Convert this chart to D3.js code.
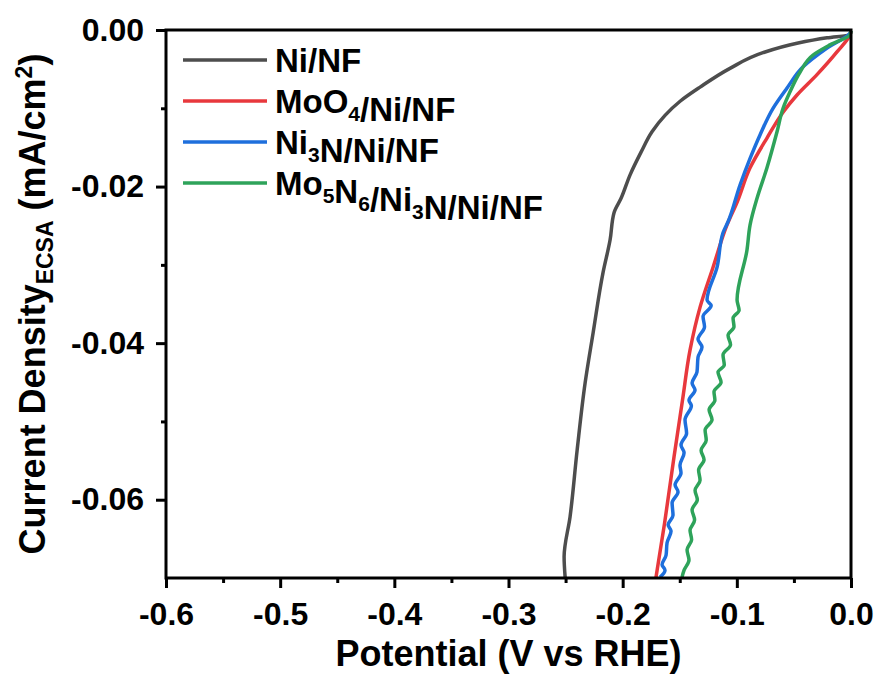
<!DOCTYPE html>
<html>
<head>
<meta charset="utf-8">
<script src="https://cdn.jsdelivr.net/npm/d3@7"></script>
<style>
  body { margin: 0; background: #fff; }
  text { font-family: Arial, "Liberation Sans", sans-serif; font-weight: bold; }
</style>
</head>
<body>
<div id="chart"></div>
<script>
// data (potential V vs RHE, current density mA/cm2)
var niNF = [
  [0, -0.0001], [-0.0009, -0.0006], [-0.0210, -0.0010], [-0.0473, -0.0017], [-0.0771, -0.0029],
  [-0.1060, -0.0049], [-0.1322, -0.0073], [-0.1497, -0.0091], [-0.1629, -0.0109], [-0.1743, -0.0130],
  [-0.1839, -0.0156], [-0.1935, -0.0185], [-0.2014, -0.0215], [-0.2075, -0.0233], [-0.2110, -0.0268],
  [-0.2172, -0.0310], [-0.2259, -0.0387], [-0.2329, -0.0451], [-0.2399, -0.0537], [-0.2461, -0.0622],
  [-0.2513, -0.0673], [-0.2504, -0.0699]
];
var moO4 = [
  [0, -0.0001], [-0.0009, -0.0006], [-0.0123, -0.0028], [-0.0298, -0.0057], [-0.0473, -0.0083],
  [-0.0595, -0.0105], [-0.0736, -0.0138], [-0.0884, -0.0176], [-0.0998, -0.0220], [-0.1086, -0.0249],
  [-0.1208, -0.0303], [-0.1322, -0.0354], [-0.1410, -0.0409], [-0.1476, -0.0473], [-0.1550, -0.0545],
  [-0.1633, -0.0630], [-0.1708, -0.0699]
];
var ni3N = [
  [0, -0.0001], [-0.0009, -0.0004], [-0.0210, -0.0023], [-0.0420, -0.0047], [-0.0560, -0.0074],
  [-0.0683, -0.0100], [-0.0797, -0.0134], [-0.0884, -0.0164], [-0.0972, -0.0198], [-0.1077, -0.0245],
  [-0.1121, -0.0259], [-0.1173, -0.0303], [-0.1261, -0.0345], [-0.1225, -0.0352], [-0.1296, -0.0366],
  [-0.1283, -0.0379], [-0.1340, -0.0395], [-0.1305, -0.0405], [-0.1340, -0.0418], [-0.1349, -0.0437],
  [-0.1392, -0.0451], [-0.1366, -0.0460], [-0.1419, -0.0473], [-0.1398, -0.0480], [-0.1454, -0.0498],
  [-0.1440, -0.0515], [-0.1489, -0.0530], [-0.1462, -0.0540], [-0.1498, -0.0556], [-0.1489, -0.0566],
  [-0.1541, -0.0581], [-0.1515, -0.0590], [-0.1567, -0.0604], [-0.1559, -0.0620], [-0.1602, -0.0632],
  [-0.1576, -0.0640], [-0.1611, -0.0655], [-0.1620, -0.0671], [-0.1655, -0.0683], [-0.1629, -0.0690],
  [-0.1673, -0.0699]
];
var mo5N6 = [
  [0, -0.0001], [-0.0009, -0.0006], [-0.0184, -0.0019], [-0.0333, -0.0032], [-0.0447, -0.0054],
  [-0.0534, -0.0079], [-0.0595, -0.0100], [-0.0648, -0.0130], [-0.0736, -0.0176], [-0.0823, -0.0215],
  [-0.0884, -0.0249], [-0.0911, -0.0281], [-0.0998, -0.0345], [-0.0980, -0.0358], [-0.1033, -0.0368],
  [-0.1025, -0.0379], [-0.1077, -0.0390], [-0.1055, -0.0402], [-0.1121, -0.0415], [-0.1110, -0.0428],
  [-0.1165, -0.0437], [-0.1138, -0.0450], [-0.1200, -0.0462], [-0.1192, -0.0473], [-0.1243, -0.0485],
  [-0.1217, -0.0498], [-0.1278, -0.0511], [-0.1268, -0.0524], [-0.1313, -0.0537], [-0.1287, -0.0549],
  [-0.1335, -0.0562], [-0.1322, -0.0575], [-0.1366, -0.0588], [-0.1346, -0.0600], [-0.1392, -0.0613],
  [-0.1370, -0.0626], [-0.1410, -0.0639], [-0.1396, -0.0651], [-0.1436, -0.0664], [-0.1419, -0.0677],
  [-0.1462, -0.0690], [-0.1480, -0.0699]
];

var seriesNames = [
  [{t: "Ni/NF"}],
  [{t: "MoO"}, {t: "4", sub: true}, {t: "/Ni/NF"}],
  [{t: "Ni"}, {t: "3", sub: true}, {t: "N/Ni/NF"}],
  [{t: "Mo"}, {t: "5", sub: true}, {t: "N"}, {t: "6", sub: true}, {t: "/Ni"}, {t: "3", sub: true}, {t: "N/Ni/NF"}]
];
var seriesData = [niNF, moO4, ni3N, mo5N6];
var colors = ["#4d4d4d", "#e8383d", "#1e6fdc", "#2ea35a"];

var xTicks = [-0.6, -0.5, -0.4, -0.3, -0.2, -0.1, 0.0];
var xMinor = [-0.55, -0.45, -0.35, -0.25, -0.15, -0.05];
var yTicks = [0.00, -0.02, -0.04, -0.06];
var yMinor = [-0.01, -0.03, -0.05];

var width = 880, height = 677;
var margin = {left: 166, right: 29, top: 30, bottom: 99};

var svg = d3.select("#chart").append("svg")
  .attr("width", width).attr("height", height);

var x = d3.scaleLinear().domain([-0.6, 0]).range([margin.left, width - margin.right]);
var y = d3.scaleLinear().domain([-0.07, 0]).range([height - margin.bottom, margin.top]);

// axes
svg.append("g")
  .attr("transform", "translate(0," + (height - margin.bottom) + ")")
  .call(d3.axisBottom(x).tickValues(xTicks).tickSize(10).tickPadding(14)
    .tickFormat(function(d) { return d === 0 ? "0.0" : d.toFixed(1); }));
svg.append("g")
  .attr("transform", "translate(0," + (height - margin.bottom) + ")")
  .call(d3.axisBottom(x).tickValues(xMinor).tickSize(5).tickFormat(""));
svg.append("g")
  .attr("transform", "translate(" + margin.left + ",0)")
  .call(d3.axisLeft(y).tickValues(yTicks).tickSize(10).tickPadding(12)
    .tickFormat(function(d) { return d === 0 ? "0.00" : d.toFixed(2); }));
svg.append("g")
  .attr("transform", "translate(" + margin.left + ",0)")
  .call(d3.axisLeft(y).tickValues(yMinor).tickSize(5).tickFormat(""));

svg.selectAll(".domain").remove();
svg.selectAll(".tick line").attr("stroke", "#000").attr("stroke-width", 3);
svg.selectAll(".tick text").attr("fill", "#000").style("font-size", "32px");

// curves
var line = d3.line()
  .x(function(d) { return x(d[0]); })
  .y(function(d) { return y(d[1]); })
  .curve(d3.curveMonotoneY);
svg.append("g").selectAll("path")
  .data(seriesData)
  .enter()
  .append("path")
  .attr("d", line)
  .attr("fill", "none")
  .attr("stroke", function(d, i) { return colors[i]; })
  .attr("stroke-width", 3.5)
  .attr("stroke-linejoin", "round");

// frame
svg.append("rect")
  .attr("x", margin.left).attr("y", margin.top)
  .attr("width", width - margin.left - margin.right)
  .attr("height", height - margin.top - margin.bottom)
  .attr("fill", "none").attr("stroke", "#000").attr("stroke-width", 3);

// legend
var legend = svg.append("g");
seriesNames.forEach(function(parts, i) {
  var ly = 60 + i * 41;
  legend.append("line")
    .attr("x1", 183).attr("x2", 267).attr("y1", ly).attr("y2", ly)
    .attr("stroke", colors[i]).attr("stroke-width", 3.5);
  var t = legend.append("text")
    .attr("x", 275).attr("y", ly + 12)
    .style("font-size", "33px");
  parts.forEach(function(p) {
    if (p.sub) {
      t.append("tspan").attr("dy", 8).style("font-size", "21px").text(p.t);
      t.append("tspan").attr("dy", -8).text("");
    } else {
      t.append("tspan").text(p.t);
    }
  });
});

// axis titles
svg.append("text")
  .attr("x", x(-0.3)).attr("y", 666)
  .attr("text-anchor", "middle")
  .style("font-size", "36px")
  .text("Potential (V vs RHE)");

var yt = svg.append("text")
  .attr("transform", "translate(45," + y(-0.035) + ") rotate(-90)")
  .attr("text-anchor", "middle")
  .style("font-size", "36px");
yt.append("tspan").text("Current Density");
yt.append("tspan").attr("dy", 8).style("font-size", "23px").text("ECSA");
yt.append("tspan").attr("dy", -8).text(" (mA/cm");
yt.append("tspan").attr("dy", -13).style("font-size", "23px").text("2");
yt.append("tspan").attr("dy", 13).text(")");
</script>
</body>
</html>
